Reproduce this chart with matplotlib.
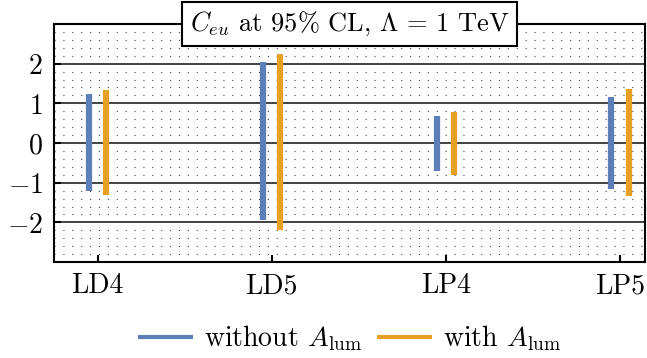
import numpy as np
import matplotlib
matplotlib.use("Agg")
import matplotlib.pyplot as plt

plt.rcParams["font.family"] = "serif"
plt.rcParams["font.serif"] = ["cmr10"]
plt.rcParams["mathtext.fontset"] = "cm"
plt.rcParams["axes.formatter.use_mathtext"] = True
plt.rcParams["font.size"] = 20

# 95% CL intervals on C_eu, Lambda = 1 TeV
models = ["LD4", "LD5", "LP4", "LP5"]
lo_without = [-1.21, -1.95, -0.70, -1.15]
hi_without = [1.24, 2.03, 0.68, 1.17]
lo_with = [-1.31, -2.18, -0.80, -1.33]
hi_with = [1.34, 2.25, 0.79, 1.36]

blue = "#5b7fb6"
orange = "#e6a024"

x = np.arange(len(models))

fig = plt.figure(figsize=(6.47, 3.58), dpi=100)
ax = fig.add_axes([0.0835, 0.268, 0.9135, 0.665])

# grid: solid at integers, dotted every 0.2
for yv in np.arange(-2.8, 3.0, 0.2):
    if abs(yv - round(yv)) > 1e-6:
        ax.axhline(yv, color="#444444", lw=0.8, ls=(0, (1, 7)), zorder=0)
for yv in [-2, -1, 0, 1, 2]:
    ax.axhline(yv, color="#222222", lw=1.2, zorder=0)

ax.vlines(x - 0.05, lo_without, hi_without, color=blue, lw=4.5,
          label=r"without $A_{\rm lum}$", zorder=3)
ax.vlines(x + 0.05, lo_with, hi_with, color=orange, lw=4.5,
          label=r"with $A_{\rm lum}$", zorder=3)

ax.set_xlim(-0.25, 3.145)
ax.set_ylim(-3, 3)
ax.set_xticks(x)
ax.set_xticklabels(models)
ax.set_yticks([-2, -1, 0, 1, 2])
ax.tick_params(direction="in", length=5, width=1.5, pad=8)
for s in ax.spines.values():
    s.set_linewidth(1.5)

ax.text(0.5, 1.0, r"$C_{eu}$ at 95% CL, $\Lambda$ = 1 TeV", transform=ax.transAxes,
        ha="center", va="center", zorder=5, fontsize=19,
        bbox=dict(boxstyle="square,pad=0.3", fc="white", ec="black", lw=1.5))

leg = ax.legend(loc="center", bbox_to_anchor=(0.5, -0.32), ncol=2, frameon=False,
                handlelength=2.0, handletextpad=0.4, columnspacing=0.5,
                fontsize=20)
for h in leg.get_lines():
    h.set_linewidth(3)

fig.savefig("out.png", dpi=100)
